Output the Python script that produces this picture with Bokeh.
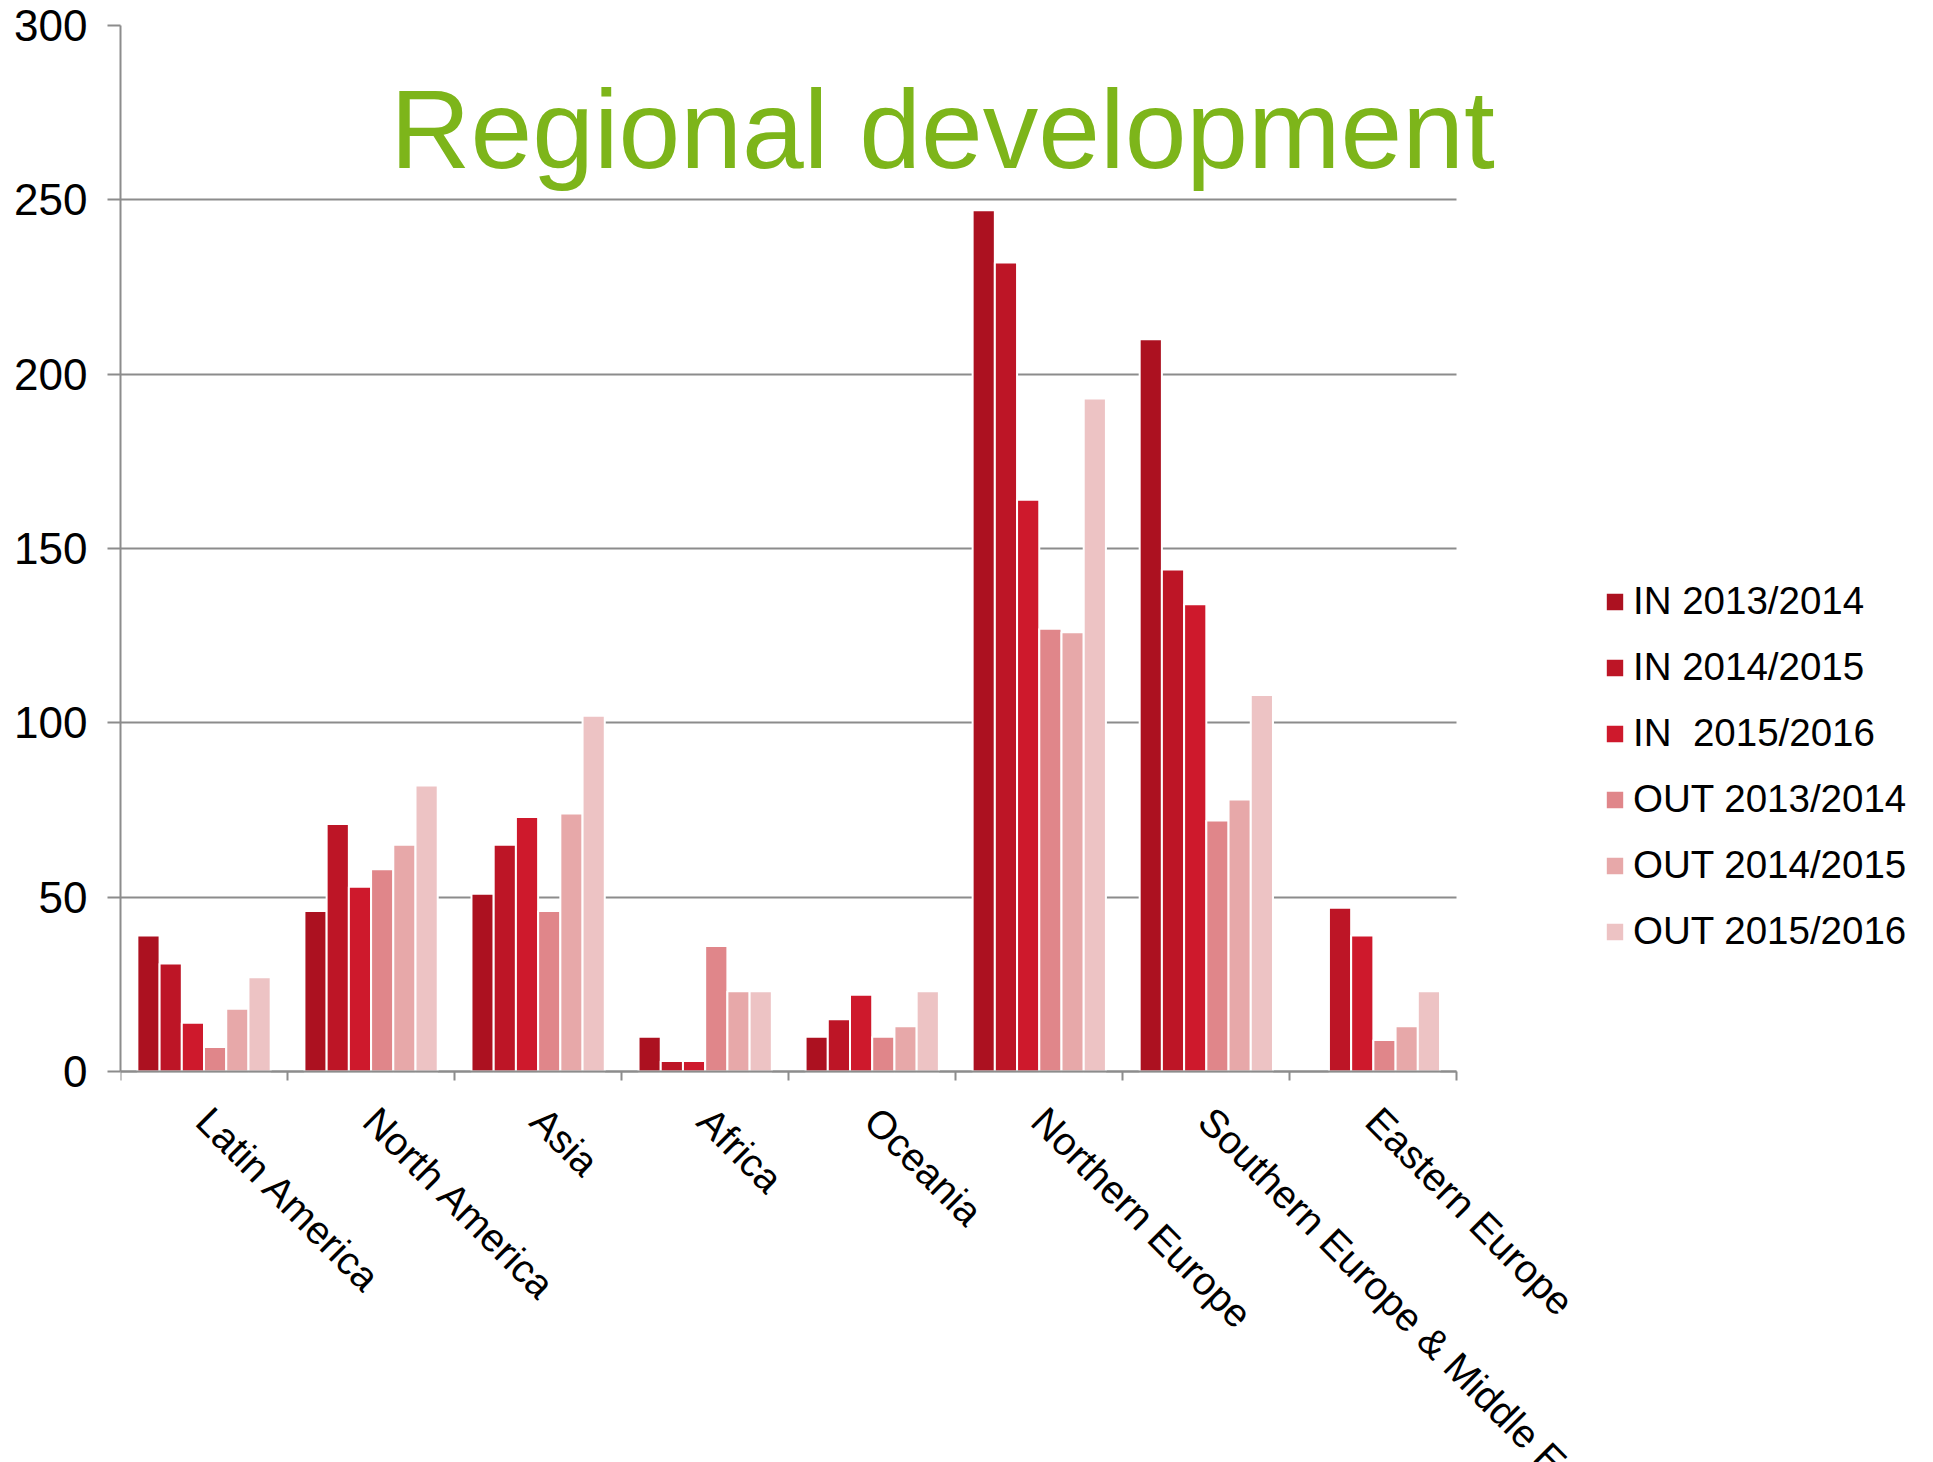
import numpy as np
from bokeh.plotting import figure
from bokeh.models import (ColumnDataSource, Range1d, FixedTicker, LabelSet, Label,
                          Legend, LinearAxis, Grid)
from bokeh.core.properties import value
from bokeh.transform import dodge
from bokeh.embed import file_html
from bokeh.resources import INLINE

# ---- data ----
categories = ["Latin America", "North America", "Asia", "Africa", "Oceania",
              "Northern Europe", "Southern Europe & Middle East", "Eastern Europe"]
series_names = ["IN 2013/2014", "IN 2014/2015", "IN  2015/2016",
                "OUT 2013/2014", "OUT 2014/2015", "OUT 2015/2016"]
in_2013_2014 = [39, 46, 51, 10, 10, 247, 210, np.nan]
in_2014_2015 = [31, 71, 65, 3, 15, 232, 144, 47]
in_2015_2016 = [14, 53, 73, 3, 22, 164, 134, 39]
out_2013_2014 = [7, 58, 46, 36, 10, 127, 72, 9]
out_2014_2015 = [18, 65, 74, 23, 13, 126, 78, 13]
out_2015_2016 = [27, 82, 102, 23, 23, 193, 108, 23]
y_ticks = [0, 50, 100, 150, 200, 250, 300]

series_values = [in_2013_2014, in_2014_2015, in_2015_2016,
                 out_2013_2014, out_2014_2015, out_2015_2016]
colors = ["#AC1120", "#BD1526", "#CE192C", "#E0868A", "#E7A8A9", "#EDC3C4"]

n = len(categories)
centers = np.arange(n) + 0.5
data = {"x": centers, "cat": categories, "zero": np.zeros(n)}
for i, vals in enumerate(series_values):
    data[f"s{i}"] = vals
source = ColumnDataSource(data)

FONT = "Liberation Sans"
GRID = "#8C8C8C"

# ---- layout (pixels) ----
W, H = 1925, 1462
LEFT, TOP = 120, 25
ZERO_Y = 1071          # canvas y of value 0
PX_PER_CAT = 167.05
px_per_unit = (ZERO_Y - TOP) / 300.0
x_end = (W - LEFT) / PX_PER_CAT
y_start = -(H - ZERO_Y) / px_per_unit

p = figure(width=W, height=H, output_backend="svg", toolbar_location=None,
           x_range=Range1d(0, x_end), y_range=Range1d(y_start, 300),
           x_axis_location=None, y_axis_location=None,
           min_border_left=LEFT, min_border_right=0,
           min_border_top=TOP, min_border_bottom=0)
p.outline_line_color = None
p.background_fill_color = "white"
p.border_fill_color = "white"
for r in list(p.center):
    if isinstance(r, Grid):
        r.visible = False

# horizontal grid lines, limited to the category span
grid = Grid(dimension=1, ticker=FixedTicker(ticks=y_ticks), bounds=(0, 300),
            grid_line_color=GRID, grid_line_width=2)
if "cross_bounds" in grid.properties():
    grid.cross_bounds = (0, n)
    p.add_layout(grid)
else:
    gsrc = ColumnDataSource({"y": y_ticks, "x0": [0] * len(y_ticks), "x1": [n] * len(y_ticks)})
    p.segment(x0="x0", x1="x1", y0="y", y1="y", source=gsrc, line_color=GRID,
              line_width=2, level="underlay")

bar_w = 0.133
items = []
for i, name in enumerate(series_names):
    off = (i - (len(series_names) - 1) / 2) * bar_w
    r = p.vbar(x=dodge("x", off, range=p.x_range), top=f"s{i}", width=bar_w,
               source=source, fill_color=colors[i], line_color="white", line_width=2)
    items.append((name, [r]))

# y axis (left panel)
yaxis = LinearAxis(ticker=FixedTicker(ticks=y_ticks), bounds=(0, 300))
yaxis.axis_line_color = GRID
yaxis.axis_line_width = 2
yaxis.major_tick_line_color = GRID
yaxis.major_tick_line_width = 2
yaxis.major_tick_out = 13
yaxis.major_tick_in = 0
yaxis.minor_tick_line_color = None
yaxis.major_label_text_font = FONT
yaxis.major_label_text_font_size = "44px"
yaxis.major_label_text_color = "black"
yaxis.major_label_standoff = 20
p.add_layout(yaxis, "left")

# x axis: category boundary ticks, drawn at value 0
xaxis = LinearAxis(ticker=FixedTicker(ticks=list(range(n + 1))), bounds=(0, n),
                   fixed_location=0)
xaxis.major_label_overrides = {i: "" for i in range(n + 1)}
xaxis.major_label_standoff = 0
xaxis.major_label_text_font_size = "1px"
xaxis.axis_line_color = GRID
xaxis.axis_line_width = 2
xaxis.major_tick_line_color = GRID
xaxis.major_tick_line_width = 2
xaxis.major_tick_out = 0
xaxis.major_tick_in = 9
xaxis.minor_tick_line_color = None
p.add_layout(xaxis, "above")

# category labels (rotated)
labels = LabelSet(x="x", y="zero", text="cat", source=source,
                  x_offset=15, y_offset=-27, angle=-np.pi / 4,
                  text_align="left", text_baseline="top",
                  text_font=value(FONT), text_font_size=value("39.5px"),
                  text_color="black")
p.add_layout(labels)

# title
title = Label(x=1.615, y=270, text="Regional development", text_font=FONT,
              text_font_size="111px", text_color="#7DB51A",
              text_align="left", text_baseline="alphabetic")
p.add_layout(title)

legend = Legend(items=items, location=(1483, 508), orientation="vertical",
                label_text_font=FONT, label_text_font_size="38.5px",
                label_text_color="black", label_height=46, spacing=20,
                glyph_width=23, glyph_height=23, label_standoff=7,
                padding=0, margin=0, border_line_color=None,
                background_fill_alpha=0)
p.add_layout(legend)

open("out.html", "w").write(file_html(p, INLINE))
